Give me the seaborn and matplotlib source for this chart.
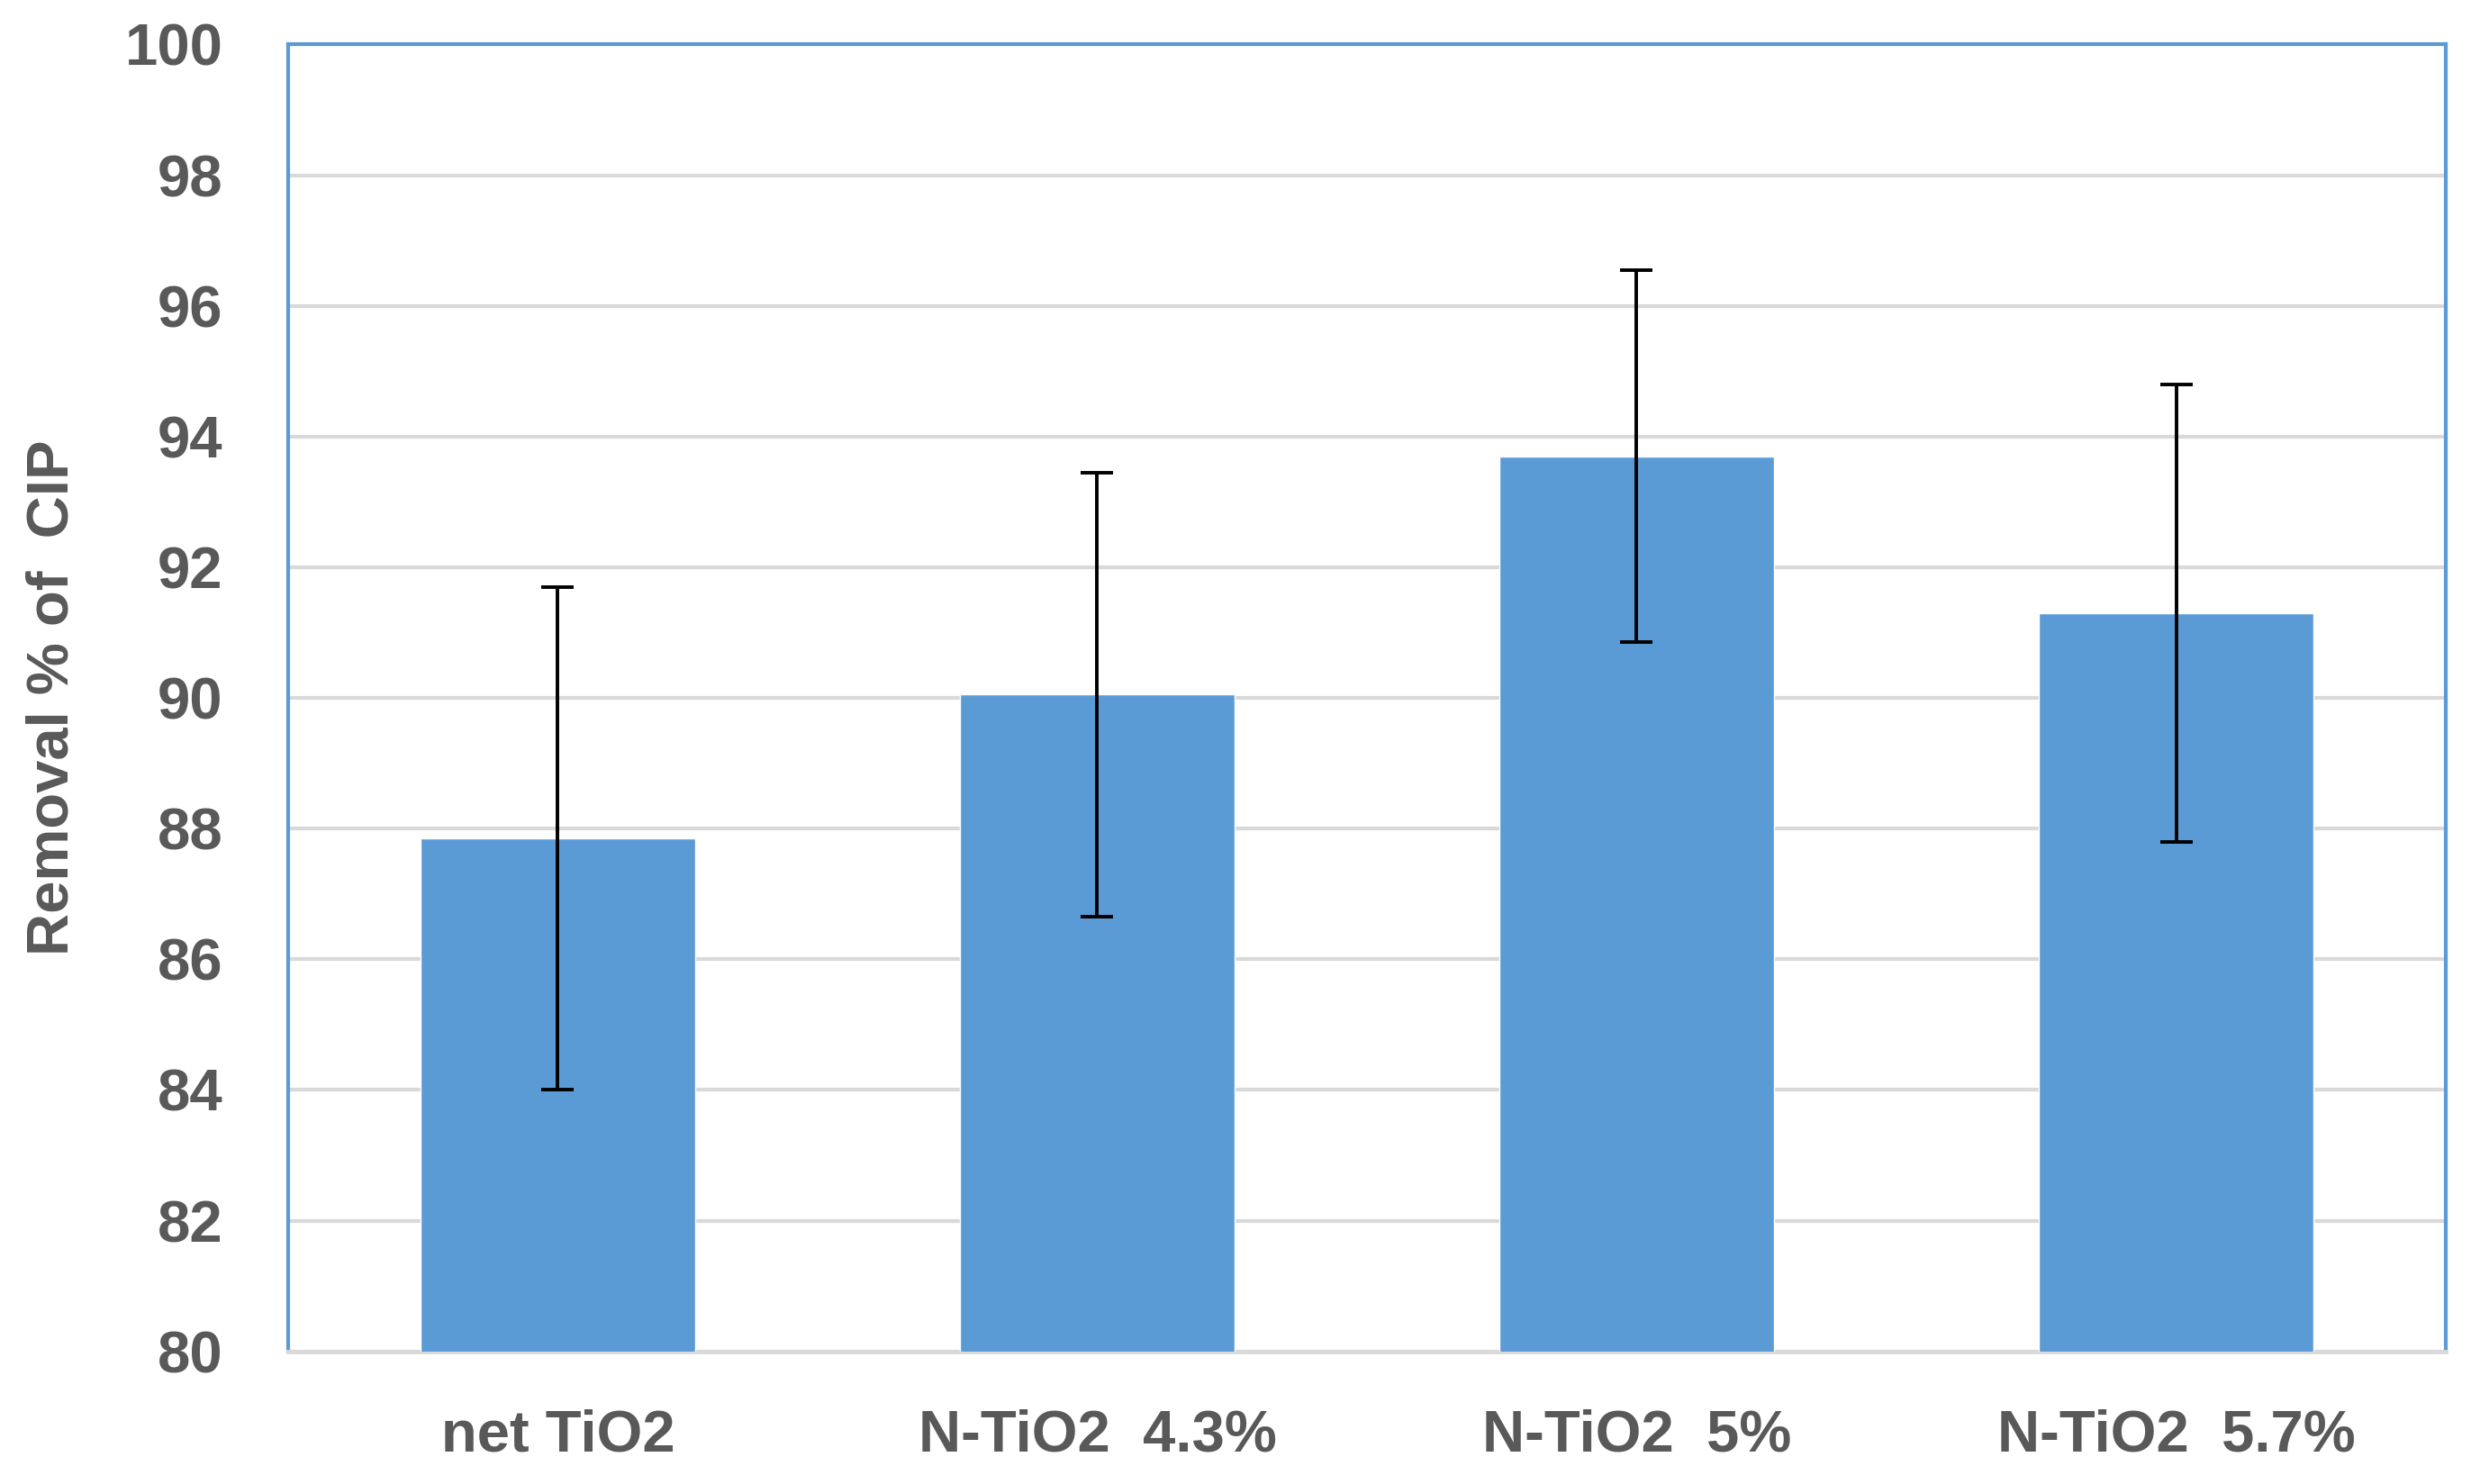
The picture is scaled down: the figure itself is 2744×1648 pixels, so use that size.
import numpy as np
import pandas as pd
import matplotlib
matplotlib.use('Agg')
import matplotlib.pyplot as plt
import seaborn as sns

# ==========================================
# data
# ==========================================
categories = ['net TiO2', 'N-TiO2  4.3%', 'N-TiO2  5%', 'N-TiO2  5.7%']
removal = [87.85, 90.05, 93.7, 91.3]
errors = [3.85, 3.4, 2.85, 3.5]
y_ticks = list(range(80, 101, 2))

bar_color = '#5B9BD5'
text_color = '#595959'
grid_color = '#D9D9D9'

sns.set_theme(style='white')
plt.rcParams['font.family'] = ['Liberation Sans Narrow', 'Liberation Sans', 'DejaVu Sans']

df = pd.DataFrame({'sample': categories, 'removal': removal})

fig = plt.figure(figsize=(27.44, 16.48), dpi=100)
ax = fig.add_axes([0.1166, 0.0894, 0.8732, 0.8806])

sns.barplot(data=df, x='sample', y='removal', color=bar_color, width=0.51,
            saturation=1, ax=ax, zorder=3)
ax.errorbar(x=np.arange(len(categories)), y=removal, yerr=errors, fmt='none',
            ecolor='black', elinewidth=2.8, capsize=13, capthick=2.8, zorder=4)

ax.set_ylim(80, 100)
ax.set_yticks(y_ticks)
ax.set_xlim(-0.5, len(categories) - 0.5)
ax.yaxis.grid(True, color=grid_color, linewidth=3, zorder=0)
ax.set_axisbelow(True)

for side in ['left', 'top', 'right']:
    ax.spines[side].set_visible(True)
    ax.spines[side].set_color(bar_color)
    ax.spines[side].set_linewidth(3)
ax.spines['bottom'].set_color(grid_color)
ax.spines['bottom'].set_linewidth(3.5)

ax.tick_params(axis='both', length=0, labelsize=47, labelcolor=text_color)
ax.tick_params(axis='y', pad=52)
ax.tick_params(axis='x', pad=46)
for lab in ax.get_xticklabels() + ax.get_yticklabels():
    lab.set_fontweight('bold')

ax.set_xlabel('')
ax.set_ylabel('Removal % of  CIP', fontsize=47, fontweight='bold', color=text_color, labelpad=36)

plt.savefig('out.png', dpi=100)
